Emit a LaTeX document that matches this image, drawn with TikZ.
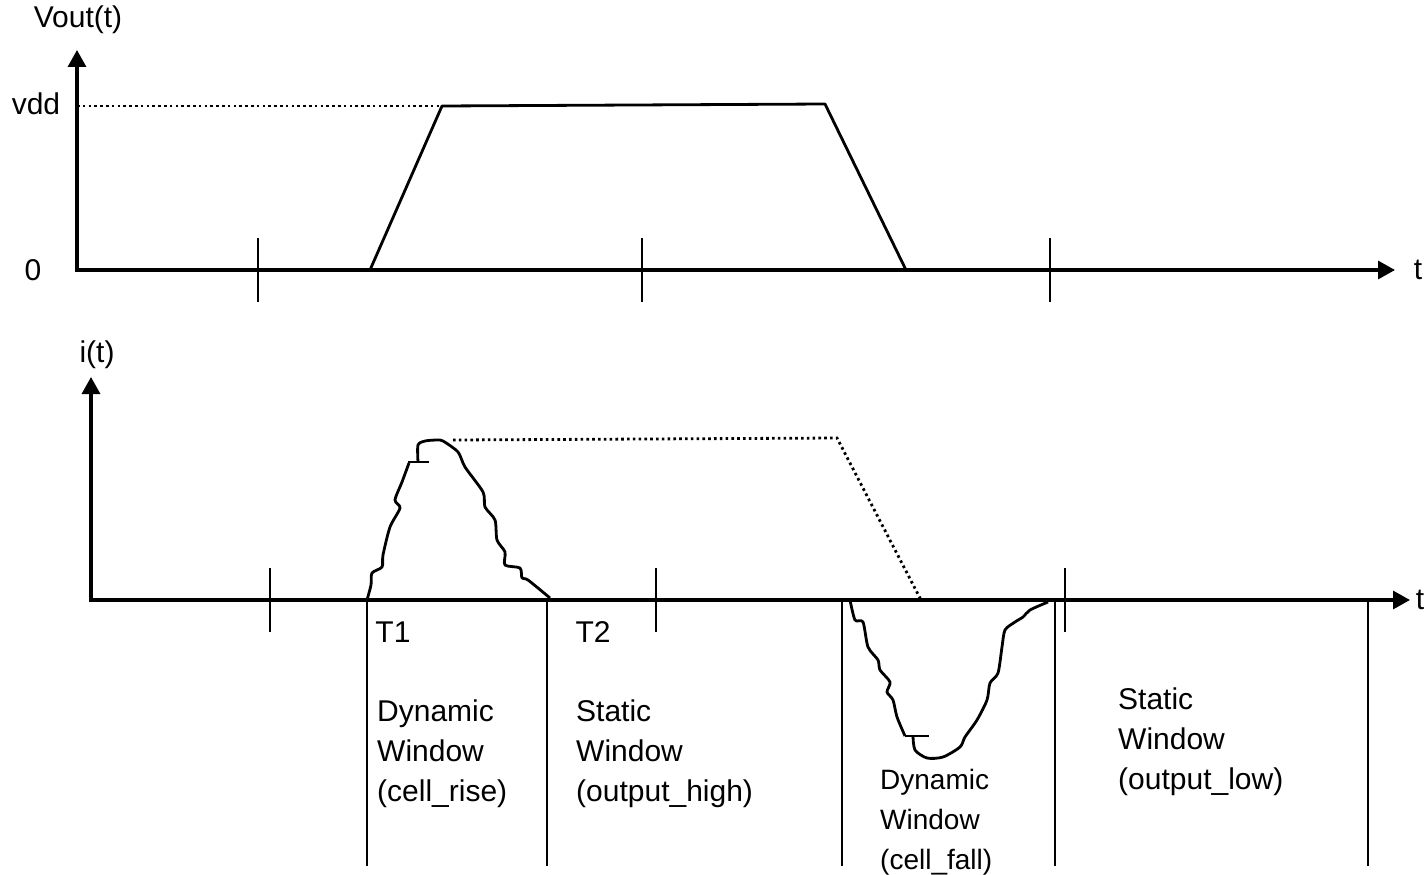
\documentclass[tikz,border=0pt]{standalone}
\usepackage{fontspec}
\setmainfont{Liberation Sans}
\usetikzlibrary{arrows.meta}
\begin{document}
\begin{tikzpicture}[x=1pt,y=-1pt,
  axis/.style={line width=3.2pt,-{Triangle[length=17pt,width=18pt]}},
  tick/.style={line width=2.8pt},
  wave/.style={line width=2.8pt,line join=round},
  dots/.style={line width=2.8pt,dash pattern=on 2.6pt off 3.2pt},
  lbl/.style={font=\fontsize{30}{40}\selectfont,inner sep=0pt},
  win/.style={font=\fontsize{30}{40}\selectfont,inner sep=0pt,align=left,anchor=north west},
  winsmall/.style={font=\fontsize{28}{40}\selectfont,inner sep=0pt,align=left,anchor=north west}]
\useasboundingbox (0,0) rectangle (1427,875);
% ---------- top plot ----------
\coordinate (o1) at (77,270);
\coordinate (ytop1) at (77,50);
\coordinate (xend1) at (1395,270);
\draw[axis] (o1) -- (ytop1);
\draw[axis] ([xshift=-1.6pt]o1) -- (xend1);
\node[lbl] (vout) at (78,20) {Vout(t)};
\node[lbl] (vdd) at (36,104) {vdd};
\node[lbl] (zero) at (33,270) {0};
\node[lbl] (t1) at (1418,270) {t};
\coordinate (r0) at (370,270);
\coordinate (r1) at (442,106);
\coordinate (f0) at (825,104);
\coordinate (f1) at (906,270);
\coordinate (vddL) at (77,106);
\draw[dots] (vddL) -- (r1);
\draw[wave] (r0) -- (r1) -- (f0) -- (f1);
\foreach \x in {258,642,1050} \draw[tick] (\x,238) -- (\x,302);
% ---------- bottom plot ----------
\coordinate (o2) at (91,600);
\coordinate (ytop2) at (91,377);
\coordinate (xend2) at (1410,600);
\draw[axis] (o2) -- (ytop2);
\draw[axis] ([xshift=-1.6pt]o2) -- (xend2);
\node[lbl] (it) at (97,355) {i(t)};
\node[lbl] (t2) at (1420,600) {t};
\foreach \x in {270,656,1065} \draw[tick] (\x,568) -- (\x,632);
\foreach \x in {367,547,842,1055,1368} \draw[tick] (\x,600) -- (\x,866);
% rise current
\draw[wave] plot[smooth,tension=0.45] coordinates {(367,600) (371,585) (372,573) (382,567) (383,555) (390,527) (400,508) (395,500) (402,482) (409,463)};
\draw[wave] (408,462) -- (429,462);
\draw[wave] plot[smooth,tension=0.45] coordinates {(418,462) (418,445) (425,441) (437,440) (443,441) (458,452) (465,467) (483,492) (485,507) (495,520) (497,540) (505,552) (505,565) (520,568) (522,578) (528,580) (550,598)};
% dotted envelope
\coordinate (d0) at (453,440);
\coordinate (d1) at (837,438);
\coordinate (d2) at (921,600);
\draw[dots] (d0) -- (d1) -- (d2);
% fall current
\draw[wave] plot[smooth,tension=0.45] coordinates {(850,600) (855,620) (863,622) (868,647) (878,660) (880,670) (890,682) (887,692) (893,700) (897,717) (905,736)};
\draw[wave] (905,736) -- (929,736);
\draw[wave] plot[smooth,tension=0.45] coordinates {(913,736) (915,750) (927,758) (943,757) (960,747) (965,737) (977,720) (987,700) (990,683) (998,673) (1002,647) (1005,630) (1015,622) (1023,617) (1030,610) (1048,602)};
% labels
\node[lbl] (T1) at (393,632) {T1};
\node[lbl] (T2) at (593,632) {T2};
\node[win] (w1) at (377,700) {Dynamic\\Window\\(cell\_rise)};
\node[win] (w2) at (576,700) {Static\\Window\\(output\_high)};
\node[winsmall] (w3) at (880,769) {Dynamic\\Window\\(cell\_fall)};
\node[win] (w4) at (1118,688) {Static\\Window\\(output\_low)};
\end{tikzpicture}
\end{document}
